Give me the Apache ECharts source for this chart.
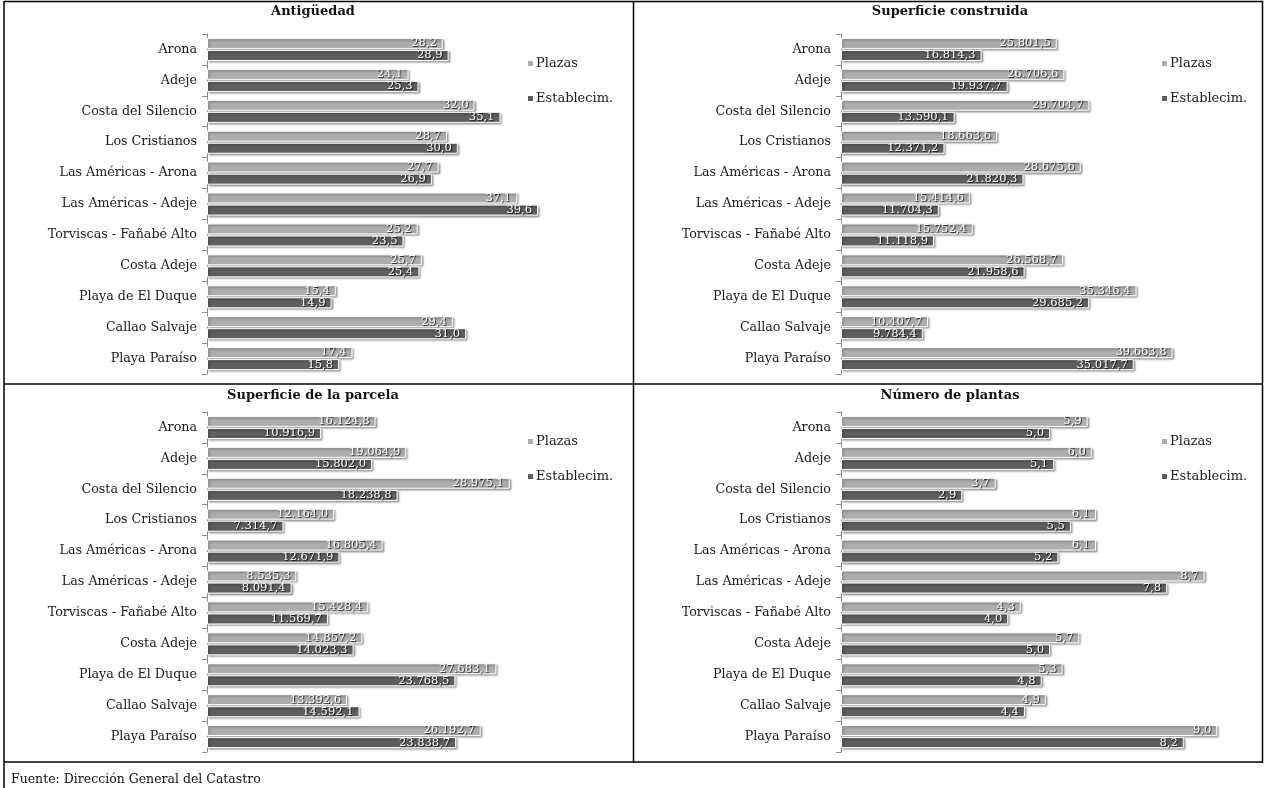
<!DOCTYPE html>
<html>
<head>
<meta charset="utf-8">
<title>Características de los establecimientos</title>
<script src="https://cdn.jsdelivr.net/npm/echarts@6/dist/echarts.min.js"></script>
<style>
  html, body { margin: 0; padding: 0; background: #ffffff; }
  #chart { width: 1265px; height: 788px; }
</style>
</head>
<body>
<div id="chart"></div>
<script>
// Zonas turísticas (eje de categorías)
const zonas = [
  'Arona', 'Adeje', 'Costa del Silencio', 'Los Cristianos',
  'Las Américas - Arona', 'Las Américas - Adeje', 'Torviscas - Fañabé Alto',
  'Costa Adeje', 'Playa de El Duque', 'Callao Salvaje', 'Playa Paraíso'
];
const seriesNames = ['Plazas', 'Establecim.'];

// Antigüedad (años)
const antiguedadPlazas = [28.2, 24.1, 32.0, 28.7, 27.7, 37.1, 25.2, 25.7, 15.4, 29.4, 17.4];
const antiguedadEstab  = [28.9, 25.3, 35.1, 30.0, 26.9, 39.6, 23.5, 25.4, 14.9, 31.0, 15.8];

// Superficie construida (m²)
const construidaPlazas = [25801.5, 26706.6, 29704.7, 18663.6, 28675.6, 15414.6, 15752.4, 26568.7, 35346.4, 10407.7, 39663.8];
const construidaEstab  = [16814.3, 19937.7, 13590.1, 12371.2, 21820.3, 11704.3, 11118.9, 21958.6, 29685.2, 9784.4, 35017.7];

// Superficie de la parcela (m²)
const parcelaPlazas = [16124.8, 19064.9, 28975.1, 12164.0, 16805.4, 8535.3, 15428.4, 14857.2, 27683.1, 13392.6, 26192.7];
const parcelaEstab  = [10916.9, 15802.0, 18238.8, 7314.7, 12671.9, 8091.4, 11569.7, 14023.3, 23768.5, 14592.1, 23838.7];

// Número de plantas
const plantasPlazas = [5.9, 6.0, 3.7, 6.1, 6.1, 8.7, 4.3, 5.7, 5.3, 4.9, 9.0];
const plantasEstab  = [5.0, 5.1, 2.9, 5.5, 5.2, 7.8, 4.0, 5.0, 4.8, 4.4, 8.2];

const panelTitles = ['Antigüedad', 'Superficie construida', 'Superficie de la parcela', 'Número de plantas'];
const panelMax = [50, 50000, 40000, 10];
const panelData = [
  [antiguedadPlazas, antiguedadEstab],
  [construidaPlazas, construidaEstab],
  [parcelaPlazas, parcelaEstab],
  [plantasPlazas, plantasEstab]
];

const FONT = 'DejaVu Serif';
const COLORS = ['#adadad', '#5e5e5e'];

// Spanish number format: 25.801,5
function fmt(v) {
  const parts = v.toFixed(1).split('.');
  const ent = parts[0].replace(/\B(?=(\d{3})+(?!\d))/g, '.');
  return ent + ',' + parts[1];
}

// Panel layout (2 x 2 table)
const cells = [
  { left: 207, top: 34, cx: 313, ty: 5, lx: 521, ly: 52 },
  { left: 841, top: 34, cx: 950, ty: 5, lx: 1155, ly: 52 },
  { left: 207, top: 412, cx: 313, ty: 389, lx: 521, ly: 430 },
  { left: 841, top: 412, cx: 950, ty: 389, lx: 1155, ly: 430 }
];

const grid = [], xAxis = [], yAxis = [], series = [], title = [], legend = [];

cells.forEach((c, i) => {
  grid.push({ left: c.left, top: c.top, width: 418, height: 340 });
  xAxis.push({
    gridIndex: i, type: 'value', min: 0, max: panelMax[i], show: false,
    splitLine: { show: false }
  });
  yAxis.push({
    gridIndex: i, type: 'category', data: zonas, inverse: true,
    axisLine: { show: true, lineStyle: { color: '#8c8c8c', width: 1 } },
    axisTick: { show: true, length: 5, interval: 0, lineStyle: { color: '#8c8c8c' } },
    axisLabel: { color: '#1a1a1a', fontFamily: FONT, fontSize: 12.7, margin: 10 }
  });
  title.push({
    text: panelTitles[i], left: c.cx, top: c.ty, textAlign: 'center', padding: 0,
    textStyle: { fontFamily: FONT, fontSize: 13, fontWeight: 'bold', color: '#111' }
  });
  legend.push({
    data: seriesNames, orient: 'vertical', left: c.lx, top: c.ly,
    itemGap: 22, itemWidth: 7, itemHeight: 7, icon: 'rect',
    textStyle: { fontFamily: FONT, fontSize: 13, color: '#1a1a1a', padding: [0, 0, 0, -3] }
  });
  seriesNames.forEach((name, k) => {
    series.push({
      name: name, type: 'bar', xAxisIndex: i, yAxisIndex: i,
      data: panelData[i][k],
      barWidth: 11, barGap: '10%',
      itemStyle: {
        color: COLORS[k], borderColor: '#ffffff', borderWidth: 1,
        shadowColor: 'rgba(0,0,0,0.35)', shadowBlur: 2, shadowOffsetX: 1.5, shadowOffsetY: 1.5
      },
      label: {
        show: true, position: 'insideRight', offset: [-1, 0],
        formatter: p => fmt(p.value),
        color: '#ffffff', fontFamily: FONT, fontSize: 11.5,
        textShadowColor: 'rgba(0,0,0,0.8)', textShadowBlur: 1,
        textShadowOffsetX: 1, textShadowOffsetY: 1
      },
      emphasis: { disabled: true },
      animation: false
    });
  });
});

// Footer source note
title.push({
  text: 'Fuente: Dirección General del Catastro', left: 11, top: 773, padding: 0,
  textStyle: { fontFamily: FONT, fontSize: 12.5, fontWeight: 'normal', color: '#111' }
});

// Table frame lines
const line = (x1, y1, x2, y2) => ({
  type: 'line', shape: { x1, y1, x2, y2 }, silent: true,
  style: { stroke: '#000', lineWidth: 1.5 }
});

const chart = echarts.init(document.getElementById('chart'), null, { renderer: 'canvas' });
chart.setOption({
  animation: false,
  title, legend, grid, xAxis, yAxis, series,
  graphic: [
    line(4, 1.5, 1263, 1.5),
    line(4, 1, 4, 790),
    line(1262.5, 1, 1262.5, 763),
    line(633.5, 1, 633.5, 763),
    line(4, 384, 1263, 384),
    line(4, 762, 1263, 762)
  ]
});
</script>
</body>
</html>
